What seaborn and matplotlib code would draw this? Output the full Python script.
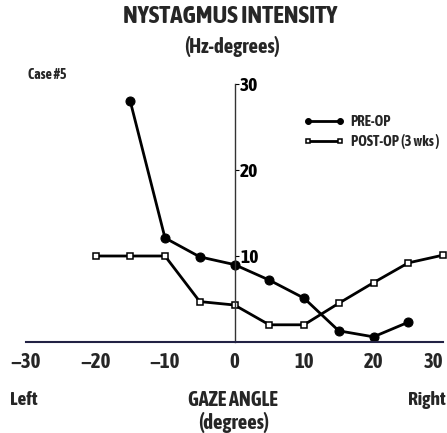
import numpy as np
import pandas as pd
import seaborn as sns
import matplotlib
matplotlib.use("Agg")
import matplotlib.pyplot as plt

# values
pre_angle = [-15, -10, -5, 0, 5, 10, 15, 20, 25]
pre_op = [28.0, 12.1, 9.9, 9.0, 7.2, 5.1, 1.3, 0.6, 2.3]
post_angle = [-20, -15, -10, -5, 0, 5, 10, 15, 20, 25, 30]
post_op = [10.0, 10.0, 10.0, 4.7, 4.3, 2.0, 2.0, 4.5, 6.9, 9.2, 10.1]
x_ticks = [-30, -20, -10, 0, 10, 20, 30]
x_labels = ["\u221230", "\u221220", "\u221210", "0", "10", "20", "30"]
y_ticks = [10, 20, 30]

sns.set_style("white")
plt.rcParams['font.family'] = ['Asap Condensed', 'DejaVu Sans']
plt.rcParams['font.weight'] = 'bold'

pre = pd.DataFrame({"angle": pre_angle, "value": pre_op})
post = pd.DataFrame({"angle": post_angle, "value": post_op})

fig = plt.figure(figsize=(4.47, 4.33), dpi=100)
ax = fig.add_axes([26 / 447, (433 - 342) / 433, 417 / 447, 258 / 433])

sns.lineplot(data=pre, x="angle", y="value", ax=ax, color="black", lw=2,
             marker="o", markersize=6.5, markerfacecolor="black",
             markeredgecolor="black", label="PRE-OP", clip_on=False)
sns.lineplot(data=post, x="angle", y="value", ax=ax, color="black", lw=2,
             marker="s", markersize=4.5, markerfacecolor="white",
             markeredgecolor="black", markeredgewidth=1.1,
             label="POST-OP (3 wks )", clip_on=False)

ax.set_xlim(-30, 30)
ax.set_ylim(0, 30)

for s in ["top", "left"]:
    ax.spines[s].set_visible(False)
ax.spines["right"].set_position(("data", 0))
ax.spines["right"].set_color("#333333")
ax.spines["right"].set_linewidth(1.0)
ax.spines["bottom"].set_color("#222244")
ax.spines["bottom"].set_linewidth(1.5)

ax.yaxis.tick_right()
ax.set_yticks(y_ticks)
ax.set_yticklabels([str(v) for v in y_ticks], fontsize=14, fontweight="bold")
ax.tick_params(axis="y", direction="out", length=3, pad=1, colors="black")

ax.set_xticks(np.arange(-30, 31, 5), minor=True)
ax.set_xticks(x_ticks)
ax.set_xticklabels(x_labels, fontsize=15, fontweight="bold")
ax.tick_params(axis="x", which="both", direction="in", length=4, pad=7, width=1)
# last label sits at the right edge, keep it inside the picture
ax.get_xticklabels()[-1].set_horizontalalignment("right")
ax.set_xlabel("")
ax.set_ylabel("")

leg = ax.legend(loc="center left", bbox_to_anchor=(290 / 447, 1 - 132 / 433),
                bbox_transform=fig.transFigure, frameon=False, numpoints=2,
                handlelength=2.8, handletextpad=0.45, labelspacing=0.3,
                markerscale=0.65, prop={"size": 10.5, "weight": "bold"})

fig.text(0.515, 0.962, "NYSTAGMUS INTENSITY", ha="center", va="center",
         fontsize=18, fontweight="bold")
fig.text(0.52, 0.893, "(Hz-degrees)", ha="center", va="center",
         fontsize=15, fontweight="bold")
fig.text(0.106, 0.827, "Case #5", ha="center", va="center", fontsize=10,
         fontweight="bold")
fig.text(0.054, 0.077, "Left", ha="center", va="center", fontsize=14,
         fontweight="bold")
fig.text(0.522, 0.077, "GAZE ANGLE", ha="center", va="center", fontsize=14.5,
         fontweight="bold")
fig.text(0.523, 0.025, "(degrees)", ha="center", va="center", fontsize=15,
         fontweight="bold")
fig.text(0.997, 0.077, "Right", ha="right", va="center", fontsize=14,
         fontweight="bold")

fig.savefig("out.png", dpi=100)
